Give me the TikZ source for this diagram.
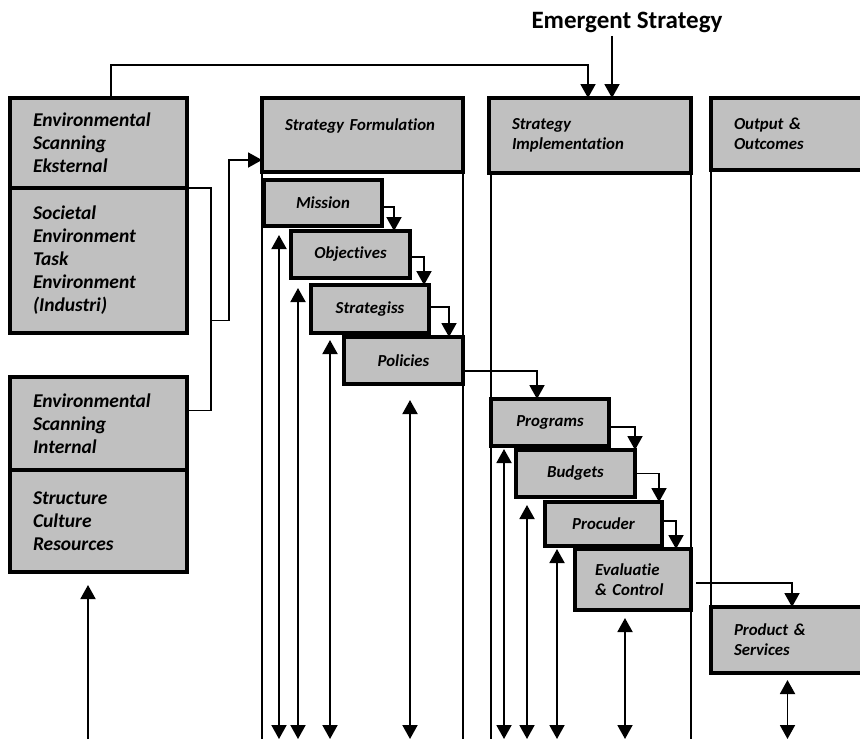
\documentclass[tikz,border=0pt]{standalone}
\usepackage{fontspec}
\setmainfont[Ligatures=NoCommon]{Carlito}
\usetikzlibrary{arrows.meta}
\definecolor{boxgray}{RGB}{192,192,192}
\tikzset{
  box/.style n args={3}{draw,line width=3.5pt,fill=boxgray,anchor=north west,outer sep=0pt,
    inner ysep=0pt,inner xsep=23pt,align=left,minimum width=#1pt,minimum height=#2pt,text width=#3pt,
    font=\fontsize{16.8}{20}\selectfont\bfseries\itshape},
  bigbox/.style n args={3}{box={#1}{#2}{#3},font=\fontsize{19.5}{23}\selectfont\bfseries\itshape},
  stepbox/.style 2 args={draw,line width=3.5pt,fill=boxgray,anchor=north west,outer sep=0pt,
    inner sep=0pt,align=center,minimum width=#1pt,minimum height=#2pt,
    font=\fontsize{16.8}{20}\selectfont\bfseries\itshape},
  conn/.style={line width=1.9pt},
  arr/.style={-{Triangle[length=14pt,width=15pt]}},
  dbl/.style={{Triangle[length=14pt,width=15pt]}-{Triangle[length=14pt,width=15pt]}}
}
\begin{document}
\begin{tikzpicture}[x=1pt,y=-1pt]
\path[use as bounding box,fill=white] (0,0) rectangle (860,740);
\coordinate (bottom) at (0,739);
\node[font=\fontsize{25}{29}\selectfont\bfseries] (emergent) at (627,22) {Emergent Strategy};

\node[bigbox={177}{90}{131}] (envext) at (10,98) {Environmental\\Scanning\\Eksternal};
\node[bigbox={177}{145}{131}] (societal) at (10,188) {Societal\\Environment\\Task\\Environment\\(Industri)};
\node[bigbox={177}{93}{131}] (envint) at (10,377) {Environmental\\Scanning\\Internal};
\node[bigbox={177}{102}{131}] (structure) at (10,470) {Structure\\Culture\\Resources};

\node[box={201}{74}{155}] (formulation) at (262,98) {Strategy Formulation\\ ~};
\node[box={202}{75}{156}] (implementation) at (489,98) {Strategy\\Implementation};
\node[box={169}{72}{123}] (output) at (711,98) {Output \&\\Outcomes};

\node[stepbox={118}{46}] (mission) at (264,180) {Mission};
\node[stepbox={119}{47}] (objectives) at (291,231) {Objectives};
\node[stepbox={118}{48}] (strategiss) at (311,285) {Strategiss};
\node[stepbox={119}{47}] (policies) at (344,337) {Policies};

\node[stepbox={118}{47}] (programs) at (491,399) {Programs};
\node[stepbox={119}{47}] (budgets) at (516,450) {Budgets};
\node[stepbox={117}{44}] (procuder) at (545,502) {Procuder};
\node[box={116}{61}{76},inner xsep=20pt] (evaluatie) at (575,549) {Evaluatie\\\& Control};
\node[box={168}{66}{122},inner xsep=22pt] (product) at (711,607) {Product \&\\Services};

\draw[conn,arr] ([xshift=12.5pt]envext.north) -- ++(0,-33) -| ([xshift=-2pt]implementation.north);
\draw[conn,arr] ([xshift=22pt]implementation.north |- emergent.south) -- ([xshift=22pt]implementation.north);

\draw[conn] (societal.north east) -- ++(24,0) |- ([yshift=13pt]envint.east);
\coordinate (join) at ([shift={(24,60)}]societal.east);
\draw[conn,arr] (join) -- ++(18,0) |- ([yshift=-25pt]formulation.west);

\draw[conn] (formulation.south west) -- (formulation.south west |- bottom);
\draw[conn] (formulation.south east) -- (formulation.south east |- bottom);
\draw[conn] ([xshift=2pt]implementation.south west) -- ([xshift=2pt]implementation.south west |- bottom);
\draw[conn] (implementation.south east) -- (implementation.south east |- bottom);
\draw[conn] (output.south west) -- (product.north west);

\draw[conn,arr] ([yshift=-4pt]mission.east) -| ([xshift=-16pt]objectives.north east);
\draw[conn,arr] ([yshift=-2.5pt]objectives.east) -| ([xshift=-5pt]strategiss.north east);
\draw[conn,arr] ([yshift=2pt]strategiss.east) -| ([xshift=-14pt]policies.north east);
\draw[conn,arr] ([yshift=-10.5pt]policies.east) -| ([xshift=-13pt]programs.north);
\draw[conn,arr] ([yshift=-4.5pt]programs.east) -| (budgets.north east);
\draw[conn,arr] (budgets.east) -| ([xshift=-3pt]procuder.north east);
\draw[conn,arr] ([yshift=3pt]procuder.east) -| ([xshift=-15pt]evaluatie.north east);
\draw[conn,arr] ([shift={(5,3.5)}]evaluatie.east) -| ([xshift=-3pt]product.north);

\draw[conn,dbl] ([shift={(-44,9)}]mission.south) -- ([xshift=-44pt]mission.south |- bottom);
\draw[conn,dbl] ([shift={(-52.5,10)}]objectives.south) -- ([xshift=-52.5pt]objectives.south |- bottom);
\draw[conn,dbl] ([shift={(-40,7)}]strategiss.south) -- ([xshift=-40pt]strategiss.south |- bottom);
\draw[conn,dbl] ([shift={(6.5,16)}]policies.south) -- ([xshift=6.5pt]policies.south |- bottom);
\draw[conn,dbl] ([shift={(-46,3)}]programs.south) -- ([xshift=-46pt]programs.south |- bottom);
\draw[conn,dbl] ([shift={(-48.5,8)}]budgets.south) -- ([xshift=-48.5pt]budgets.south |- bottom);
\draw[conn,dbl] ([shift={(-46.5,3)}]procuder.south) -- ([xshift=-46.5pt]procuder.south |- bottom);
\draw[conn,dbl] ([shift={(-8,8)}]evaluatie.south) -- ([xshift=-8pt]evaluatie.south |- bottom);
\draw[conn,dbl] ([shift={(-7.5,7)}]product.south) -- ([xshift=-7.5pt]product.south |- bottom);
\draw[conn,arr] ([xshift=-10.5pt]structure.south |- bottom) -- ([shift={(-10.5,13)}]structure.south);
\end{tikzpicture}
\end{document}
